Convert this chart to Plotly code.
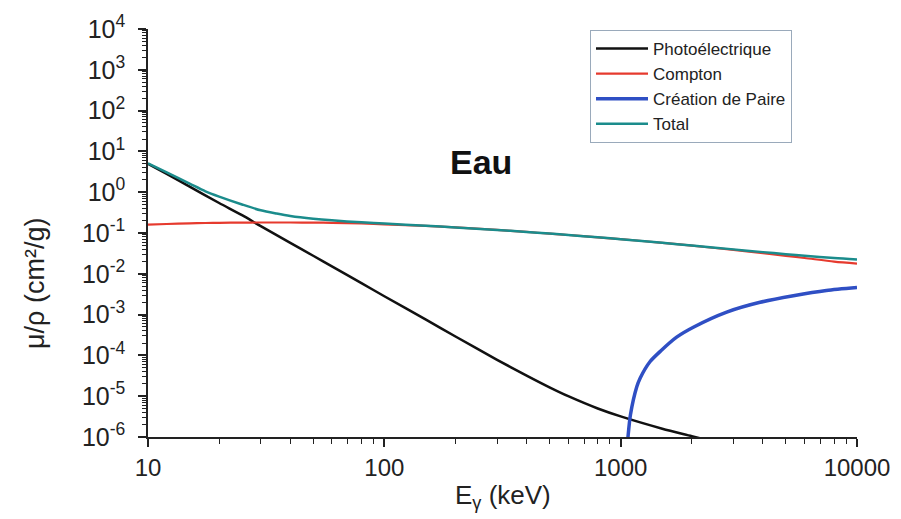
import plotly.graph_objects as go

# Energies (keV)
energy_photo = [10, 12, 15, 20, 25, 30, 40, 50, 60, 80, 100, 150, 200, 300, 400, 500, 600, 800,
                1000, 1500, 2000, 2300]
photo = [4.94, 2.80, 1.37, 0.544, 0.273, 0.147, 0.0575, 0.0277, 0.0152, 0.0059, 0.00282,
         0.00075, 0.00029, 7.8e-5, 3.2e-5, 1.65e-5, 1.0e-5, 5.0e-6, 3.2e-6, 1.6e-6, 1.05e-6, 8.5e-7]

energy = [10, 12, 15, 17.5, 20, 25, 30, 35, 40, 50, 60, 80, 100, 150, 200, 300, 400, 500, 600,
          800, 1000, 1500, 2000, 3000, 4000, 5000, 6000, 8000, 10000]
compton = [0.160, 0.166, 0.172, 0.176, 0.178, 0.180, 0.181, 0.181, 0.181, 0.180, 0.178, 0.171,
           0.163, 0.149, 0.137, 0.119, 0.106, 0.0966, 0.0894, 0.0785, 0.0706, 0.0574, 0.0490,
           0.0384, 0.0319, 0.0276, 0.0244, 0.0199, 0.0178]
total = [5.10, 3.05, 1.62, 1.05, 0.78, 0.50, 0.36, 0.30, 0.262, 0.224, 0.204, 0.183, 0.170,
         0.150, 0.137, 0.119, 0.106, 0.0968, 0.0895, 0.0786, 0.0707, 0.0575, 0.0494, 0.0397,
         0.0340, 0.0303, 0.0277, 0.0243, 0.0224]

energy_pair = [1040, 1074, 1100, 1170, 1210, 1330, 1480, 1725, 2030, 2810, 3890, 5380, 7420, 10000]
pair = [1e-7, 1.0e-6, 3.5e-6, 1.7e-5, 2.8e-5, 7.0e-5, 1.3e-4, 2.8e-4, 4.9e-4, 1.15e-3, 2.0e-3,
        2.9e-3, 3.9e-3, 4.6e-3]

y_tickvals = [10.0 ** k for k in range(-6, 5)]
y_ticktext = ["10<sup>%d</sup>" % k for k in range(-6, 5)]
x_tickvals = [10, 100, 1000, 10000]
x_ticktext = ["10", "100", "1000", "10000"]

FONT = "Arial, Liberation Sans, sans-serif"
OFF = 8  # page body margin
# target plot area in the screenshot: x 148..857, y 29..437
L, T = 148 - OFF, 29 - OFF
R = 901 - (857 - OFF)
B = 519 - (437 - OFF)
PW, PH = 857 - 148, 437 - 29


def px(xs):
    return (xs - 148) / PW


def py(ys):
    return (437 - ys) / PH


fig = go.Figure()
fig.add_trace(go.Scatter(x=energy_photo, y=photo, mode="lines", name="Photoélectrique",
                         line=dict(color="#111111", width=2.5, shape="spline", smoothing=0.8)))
fig.add_trace(go.Scatter(x=energy, y=compton, mode="lines", name="Compton",
                         line=dict(color="#e63a2e", width=2.2, shape="spline", smoothing=0.8)))
fig.add_trace(go.Scatter(x=energy_pair, y=pair, mode="lines", name="Création de Paire",
                         line=dict(color="#2f4fc4", width=3.5, shape="spline", smoothing=0.7)))
fig.add_trace(go.Scatter(x=energy, y=total, mode="lines", name="Total",
                         line=dict(color="#1b8c8c", width=2.5, shape="spline", smoothing=0.8)))

fig.update_layout(
    width=901, height=519,
    margin=dict(l=L, r=R, t=T, b=B),
    paper_bgcolor="white", plot_bgcolor="white",
    font=dict(family=FONT, color="#222222", size=20),
    showlegend=True,
    legend=dict(x=px(590), y=py(30), xanchor="left", yanchor="top",
                bordercolor="#9aaabb", borderwidth=1, bgcolor="white",
                font=dict(size=17, family=FONT, color="#222222"),
                tracegroupgap=0, itemwidth=52),
    annotations=[
        dict(text="<b>Eau</b>", x=px(481), y=py(162), xref="paper", yref="paper",
             xanchor="center", yanchor="middle",
             showarrow=False, font=dict(size=34, family=FONT, color="#111111")),
        dict(text="E<sub>γ</sub> (keV)", x=px(503), y=py(497),
             xref="paper", yref="paper", showarrow=False, xanchor="center", yanchor="middle",
             font=dict(size=26, family=FONT, color="#222222")),
        dict(text="μ/ρ (cm²/g)", x=px(35), y=py(284),
             xref="paper", yref="paper", showarrow=False, textangle=-90,
             xanchor="center", yanchor="middle",
             font=dict(size=27, family=FONT, color="#222222")),
    ],
)

fig.update_xaxes(type="log", range=[1, 4], tickvals=x_tickvals, ticktext=x_ticktext,
                 automargin=False,
                 showgrid=False, zeroline=False, showline=True, linecolor="#222222", linewidth=1.5,
                 ticks="outside", ticklen=8, tickwidth=1.5, tickcolor="#222222",
                 minor=dict(ticks="outside", ticklen=5, tickwidth=1, tickcolor="#222222",
                            dtick="D1", showgrid=False),
                 tickfont=dict(size=24), ticklabelstandoff=0)
fig.update_yaxes(type="log", range=[-6, 4], tickvals=y_tickvals, ticktext=y_ticktext,
                 automargin=False,
                 showgrid=False, zeroline=False, showline=True, linecolor="#222222", linewidth=1.5,
                 ticks="outside", ticklen=8, tickwidth=1.5, tickcolor="#222222",
                 minor=dict(ticks="outside", ticklen=4, tickwidth=1, tickcolor="#222222",
                            dtick="D1", showgrid=False),
                 tickfont=dict(size=25), ticklabelstandoff=8)

fig.write_html("out.html")
